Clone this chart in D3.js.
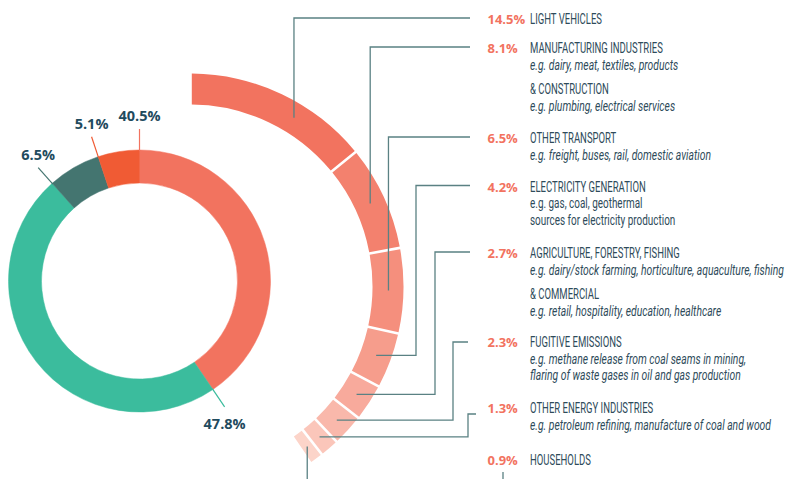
<!DOCTYPE html>
<html>
<head>
<meta charset="utf-8">
<script src="https://cdn.jsdelivr.net/npm/d3@7"></script>
<style>
  body { margin: 0; background: #fff; }
  svg { display: block; }
</style>
</head>
<body>
<div id="chart"></div>
<script>
// inner ring - share of all emissions by sector
var sectorNames  = ["Energy", "Agriculture", "Industrial processes", "Waste"];
var sectorShares = [40.5, 47.8, 6.5, 5.1];
var sectorColors = ["#f2735f", "#3bbc9d", "#447570", "#f05b34"];

// outer arc - what makes up the energy slice
var energyNames  = ["LIGHT VEHICLES", "MANUFACTURING INDUSTRIES", "OTHER TRANSPORT",
                    "ELECTRICITY GENERATION", "AGRICULTURE, FORESTRY, FISHING",
                    "FUGITIVE EMISSIONS", "OTHER ENERGY INDUSTRIES", "HOUSEHOLDS"];
var energyShares = [14.5, 8.1, 6.5, 4.2, 2.7, 2.3, 1.3, 0.9];
var energyNotes  = [
    [],
    [["ital", "e.g. dairy, meat, textiles, products"], ["head", "& CONSTRUCTION"], ["ital", "e.g. plumbing, electrical services"]],
    [["ital", "e.g. freight, buses, rail, domestic aviation"]],
    [["plain", "e.g. gas, coal, geothermal"], ["plain", "sources for electricity production"]],
    [["ital", "e.g. dairy/stock farming, horticulture, aquaculture, fishing"], ["head", "& COMMERCIAL"], ["ital", "e.g. retail, hospitality, education, healthcare"]],
    [["ital", "e.g. methane release from coal seams in mining,"], ["ital", "flaring of waste gases in oil and gas production"]],
    [["ital", "e.g. petroleum refining, manufacture of coal and wood"]],
    []
];

var width = 787, height = 479;
var navy = "#1f4b5e", slate = "#2e4b5a", coral = "#f2735f", leaderColor = "#5a8183";
// the label face is a condensed one, so squeeze Roboto horizontally
var condense = {head: 0.68, ital: 0.75, plain: 0.72};

// label layout (baselines of each row, and where leaders bend)
var rowY = [24, 53, 143, 191.5, 258, 347, 413, 465];
var leaders = [
    {frac: 0.62, bend: null, end: 470, dy: -6},
    {frac: 0.5, bend: null, end: 470, dy: -6},
    {frac: 0.5, bend: null, end: 470, dy: -6},
    {frac: 0.5, bend: 416,  end: 470, dy: -6},
    {frac: 0.5, bend: 435,  end: 470, dy: -6},
    {frac: 0.5, bend: 453,  end: 468, dy: -5},
    {frac: 0.5, bend: 468,  end: 476, dy: 1},
    {frac: 0.5, down: true}
];

var svg = d3.select("#chart")
    .append("svg")
    .attr("width", width)
    .attr("height", height);

var fmt = function(v){ return d3.format(".1f")(v) + "%"; };

// ---------- inner donut ----------
var inner = {cx: 139.5, cy: 281, r0: 98, r1: 131, tick: 152};
var innerArcs = d3.pie().sort(null).value(function(d){ return d; })(sectorShares);
var arcInner = d3.arc().innerRadius(inner.r0).outerRadius(inner.r1);

var gInner = svg.append("g")
    .attr("transform", "translate(" + inner.cx + "," + inner.cy + ")");

gInner.selectAll("path.slice")
    .data(innerArcs).enter()
    .append("path")
    .attr("class", "slice")
    .attr("d", arcInner)
    .attr("fill", function(d, i){ return sectorColors[i]; })
    .attr("stroke", function(d, i){ return sectorColors[i]; })
    .attr("stroke-width", 0.5);

var polar = function(a, r){ return [Math.sin(a) * r, -Math.cos(a) * r]; };

gInner.selectAll("line.tick")
    .data(innerArcs).enter()
    .append("line")
    .attr("class", "tick")
    .attr("x1", function(d){ return polar(d.startAngle, inner.r1 - 1)[0]; })
    .attr("y1", function(d){ return polar(d.startAngle, inner.r1 - 1)[1]; })
    .attr("x2", function(d){ return polar(d.startAngle, inner.tick)[0]; })
    .attr("y2", function(d){ return polar(d.startAngle, inner.tick)[1]; })
    .attr("stroke", function(d, i){ return sectorColors[i]; })
    .attr("stroke-width", 1.2);

gInner.selectAll("text.pct")
    .data(innerArcs).enter()
    .append("text")
    .attr("class", "pct")
    .attr("x", function(d){ return polar(d.startAngle, inner.tick)[0]; })
    .attr("y", function(d){
        var p = polar(d.startAngle, inner.tick);
        return p[1] < 0 ? p[1] - 8 : p[1] + 22;
    })
    .attr("text-anchor", "middle")
    .style("font-family", "'Open Sans', sans-serif")
    .style("font-weight", 700)
    .style("font-size", "14.5px")
    .style("fill", navy)
    .text(function(d){ return fmt(d.data); });

// ---------- outer arc (energy breakdown) ----------
var outer = {cx: 190.5, cy: 286.6, r0: 182, r1: 213, lead: 198};
var energyTotal = d3.sum(energyShares);
var outerArcs = d3.pie()
    .sort(null)
    .value(function(d){ return d; })
    .startAngle(0)
    .endAngle(2 * Math.PI * energyTotal / 100)
    .padAngle(2.6 / 200)(energyShares);
var arcOuter = d3.arc().innerRadius(outer.r0).outerRadius(outer.r1).padRadius(200);
var shade = d3.scaleLinear()
    .domain([0, energyShares.length - 1])
    .range(["#f2735f", "#fcd4c9"]);

var gOuter = svg.append("g")
    .attr("transform", "translate(" + outer.cx + "," + outer.cy + ")");

gOuter.selectAll("path.seg")
    .data(outerArcs).enter()
    .append("path")
    .attr("class", "seg")
    .attr("d", arcOuter)
    .attr("fill", function(d, i){ return shade(i); });

// leader lines from each segment to its label row
var leaderPath = function(d, i){
    var L = leaders[i];
    var a = d.startAngle + (d.endAngle - d.startAngle) * L.frac;
    var p = polar(a, outer.lead);
    var x = p[0] + outer.cx, y = p[1] + outer.cy;
    if (L.down) {
        return "M" + x + "," + y + "V" + (height + 10) +
               "M503," + (rowY[i] + 7) + "V" + (height + 10);
    }
    var ly = rowY[i] + L.dy;
    if (L.bend === null) return "M" + x + "," + y + "V" + ly + "H" + L.end;
    return "M" + x + "," + y + "H" + L.bend + "V" + ly + "H" + L.end;
};

svg.append("g").selectAll("path.leader")
    .data(outerArcs).enter()
    .append("path")
    .attr("class", "leader")
    .attr("d", leaderPath)
    .attr("fill", "none")
    .attr("stroke", leaderColor)
    .attr("stroke-width", 1.3);

// ---------- labels ----------
var rows = svg.append("g").selectAll("g.row")
    .data(energyShares).enter()
    .append("g")
    .attr("class", "row");

rows.append("text")
    .attr("x", 487.5)
    .attr("y", function(d, i){ return rowY[i]; })
    .style("font-family", "'Open Sans', sans-serif")
    .style("font-weight", 700)
    .style("font-size", "13px")
    .style("fill", coral)
    .text(function(d){ return fmt(d); });

var addLine = function(sel, kind, txt, y){
    sel.append("g")
        .attr("transform", "translate(530," + y + ") scale(" + condense[kind] + ",1)")
        .append("text")
        .style("font-family", "Roboto, sans-serif")
        .style("font-size", kind === "head" ? "14px" : "13.8px")
        .style("font-style", kind === "ital" ? "italic" : "normal")
        .style("fill", slate)
        .text(txt);
};

rows.each(function(d, i){
    var g = d3.select(this);
    var y = rowY[i];
    addLine(g, "head", energyNames[i], y);
    var prev = "head";
    energyNotes[i].forEach(function(n){
        y += (n[0] === "head" && prev !== "head") ? 24.5 : 16.5;
        addLine(g, n[0], n[1], y);
        prev = n[0];
    });
});
</script>
</body>
</html>
